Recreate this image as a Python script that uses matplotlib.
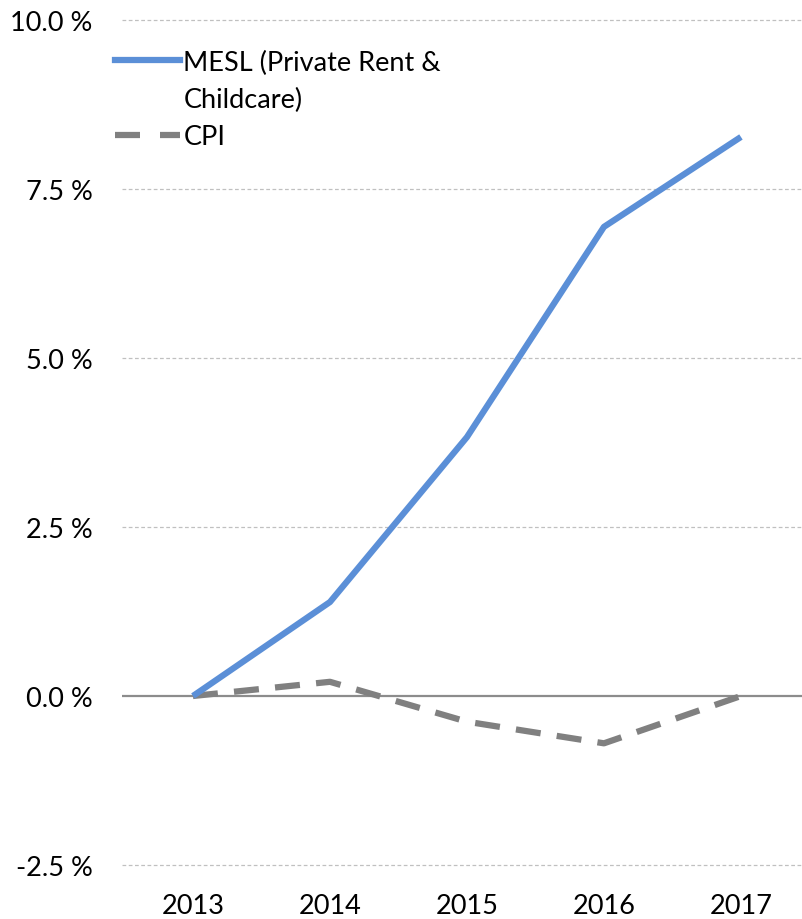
import matplotlib
matplotlib.use("Agg")
import matplotlib.pyplot as plt
from matplotlib.lines import Line2D

# datos
years = ["2013", "2014", "2015", "2016", "2017"]
mesl = [0.0, 1.39, 3.83, 6.94, 8.27]
cpi = [0.0, 0.21, -0.38, -0.70, 0.0]
yticks = [-2.5, 0.0, 2.5, 5.0, 7.5, 10.0]
ytick_labels = ["-2.5 %", "0.0 %", "2.5 %", "5.0 %", "7.5 %", "10.0 %"]

plt.rcParams['font.family'] = ['Lato', 'DejaVu Sans']
fs = 19.5

fig = plt.figure(figsize=(8.03, 9.20), dpi=100)
ax = fig.add_axes([122 / 803, 54 / 920, 681 / 803, 845 / 920])

x = range(len(years))

# grilla
for v in yticks:
    if v == 0:
        ax.axhline(v, color='#8c8c8c', lw=1.6, zorder=1)
    else:
        ax.axhline(v, color='#c0c0c0', lw=0.9, ls=(0, (3, 2)), zorder=0, clip_on=False)

ax.plot(x, cpi, color='#808080', lw=4.5, dashes=(4.0, 2.6), zorder=2,
        solid_capstyle='butt', dash_capstyle='butt')
ax.plot(x, mesl, color='#5b8fd7', lw=4.5, zorder=3, solid_capstyle='butt')

ax.set_xlim(-0.518, 4.453)
ax.set_ylim(-2.5, 10.0)
ax.set_xticks(list(x))
ax.set_xticklabels(years, fontsize=fs)
ax.set_yticks(yticks)
ax.set_yticklabels(ytick_labels, fontsize=fs)
ax.tick_params(axis='both', length=0)
ax.tick_params(axis='y', pad=21)
ax.tick_params(axis='x', pad=20)
for s in ax.spines.values():
    s.set_visible(False)

# leyenda (el texto del MESL va en dos lineas)
handles = [Line2D([], [], color='#5b8fd7', lw=4.5),
           Line2D([], [], color='none'),
           Line2D([], [], color='#808080', lw=4.5, dashes=(4.0, 3.2))]
labels = ["MESL (Private Rent &", "Childcare)", "CPI"]
leg = ax.legend(handles, labels, loc='upper left', bbox_to_anchor=(-0.026, 0.978),
                frameon=False, fontsize=fs, handlelength=2.4, handletextpad=0.12,
                labelspacing=0.45, borderaxespad=0)

fig.savefig("out.png", dpi=100)
